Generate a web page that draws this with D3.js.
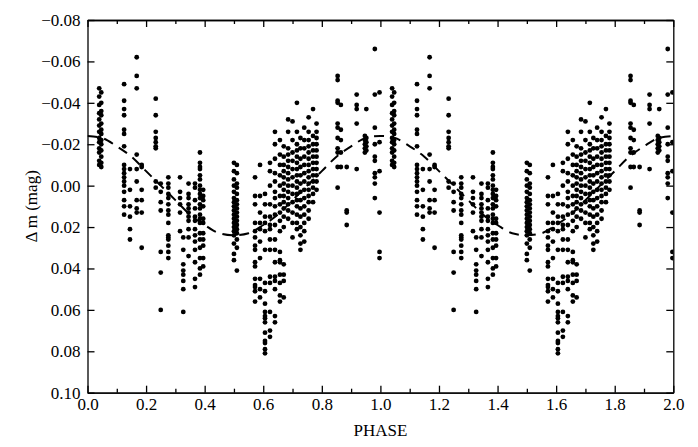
<!DOCTYPE html>
<html>
<head>
<meta charset="utf-8">
<script src="https://cdn.jsdelivr.net/npm/d3@7"></script>
<style>
  body { margin: 0; background: #fff; }
  .axisText { font-family: "Liberation Serif", "Times New Roman", serif; font-size: 17px; fill: #000; }
</style>
</head>
<body>
<div id="chart"></div>
<script>
// phase of each observing column (first cycle, 0..1); redrawn one cycle later
var colPhase = [0.040, 0.047, 0.125, 0.145, 0.168, 0.185, 0.233, 0.250, 0.276, 0.316,
                0.327, 0.345, 0.367, 0.384, 0.395, 0.500, 0.510, 0.572, 0.589, 0.606,
                0.623, 0.640, 0.657, 0.670, 0.685, 0.700, 0.715, 0.727, 0.740, 0.755,
                0.770, 0.782, 0.854, 0.865, 0.885, 0.919, 0.947, 0.952, 0.981, 0.997];

// delta magnitudes in each column
var colMags = [
  [-0.047, -0.043, -0.039, -0.035, -0.032, -0.029, -0.026, -0.023, -0.021, -0.018, -0.016, -0.012, -0.010],
  [-0.045, -0.040, -0.036, -0.034, -0.030, -0.027, -0.025, -0.022, -0.020, -0.017, -0.014, -0.011, -0.009],
  [-0.049, -0.041, -0.037, -0.034, -0.027, -0.025, -0.019, -0.010, -0.008, -0.006, -0.004, -0.002, 0.000, 0.003, 0.007, 0.010, 0.014],
  [-0.008, 0.002, 0.010, 0.015, 0.021, 0.026],
  [-0.062, -0.053, -0.047, -0.015, -0.008, -0.002, 0.007, 0.011, 0.013],
  [-0.010, -0.009, 0.002, 0.007, 0.013, 0.030],
  [-0.042, -0.034, -0.026, -0.023, -0.021, -0.019, -0.018, -0.002, 0.001],
  [-0.001, 0.003, 0.008, 0.012, 0.032, 0.042, 0.060],
  [-0.004, -0.001, 0.001, 0.004, 0.006, 0.009, 0.012, 0.014, 0.018, 0.024, 0.025, 0.026, 0.029, 0.032, 0.035],
  [-0.004, 0.003, 0.006, 0.009, 0.013, 0.022],
  [0.025, 0.031, 0.038, 0.041, 0.043, 0.046, 0.050, 0.061],
  [-0.001, 0.004, 0.006, 0.009, 0.011, 0.013, 0.015, 0.017, 0.021, 0.025, 0.034],
  [-0.001, 0.001, 0.007, 0.011, 0.015, 0.017, 0.021, 0.024, 0.027, 0.031, 0.037, 0.045, 0.049],
  [-0.016, -0.011, -0.009, -0.008, -0.005, -0.003, 0.000, 0.002, 0.004, 0.006, 0.009, 0.011, 0.014, 0.016, 0.018, 0.023, 0.026, 0.030, 0.035, 0.040, 0.043],
  [0.002, 0.005, 0.007, 0.010, 0.016, 0.018, 0.023, 0.026, 0.029, 0.035, 0.039],
  [-0.011, -0.007, -0.003, 0.000, 0.003, 0.006, 0.008, 0.010, 0.012, 0.014, 0.016, 0.018, 0.020, 0.022, 0.024, 0.028, 0.033, 0.036],
  [-0.010, -0.006, -0.001, 0.001, 0.004, 0.007, 0.009, 0.011, 0.013, 0.015, 0.017, 0.019, 0.021, 0.023, 0.026, 0.030, 0.041],
  [-0.004, 0.005, 0.009, 0.018, 0.022, 0.025, 0.029, 0.031, 0.037, 0.039, 0.045, 0.048, 0.049, 0.051, 0.056],
  [-0.010, 0.005, 0.013, 0.018, 0.021, 0.027, 0.035, 0.045, 0.050, 0.054],
  [0.004, 0.009, 0.015, 0.018, 0.022, 0.031, 0.047, 0.051, 0.057, 0.061, 0.063, 0.064, 0.066, 0.071, 0.075, 0.076, 0.079, 0.081],
  [-0.011, -0.007, 0.000, 0.009, 0.015, 0.019, 0.021, 0.026, 0.031, 0.044, 0.047, 0.061, 0.070, 0.073],
  [-0.026, -0.020, -0.013, -0.006, -0.002, 0.003, 0.006, 0.010, 0.014, 0.019, 0.026, 0.031, 0.037, 0.044, 0.046, 0.050, 0.063, 0.066],
  [-0.022, -0.015, -0.010, -0.005, 0.000, 0.005, 0.009, 0.013, 0.017, 0.022, 0.032, 0.036, 0.037, 0.043, 0.047, 0.053, 0.056],
  [-0.019, -0.014, -0.010, -0.007, -0.004, -0.001, 0.002, 0.005, 0.008, 0.011, 0.015, 0.020, 0.038, 0.043, 0.046, 0.054],
  [-0.032, -0.026, -0.018, -0.015, -0.012, -0.009, -0.006, -0.003, 0.000, 0.003, 0.006, 0.009, 0.012, 0.016],
  [-0.031, -0.022, -0.016, -0.012, -0.008, -0.004, 0.000, 0.004, 0.008, 0.013, 0.018, 0.025],
  [-0.040, -0.026, -0.020, -0.017, -0.014, -0.011, -0.008, -0.005, -0.002, 0.001, 0.004, 0.007, 0.010, 0.014, 0.018, 0.021],
  [-0.023, -0.018, -0.013, -0.009, -0.005, -0.001, 0.003, 0.007, 0.011, 0.015, 0.020, 0.024, 0.028, 0.031],
  [-0.028, -0.022, -0.018, -0.014, -0.010, -0.006, -0.002, 0.002, 0.006, 0.010, 0.014, 0.018, 0.022, 0.027],
  [-0.033, -0.026, -0.022, -0.019, -0.016, -0.013, -0.010, -0.007, -0.004, -0.001, 0.002, 0.005, 0.008, 0.012, 0.016],
  [-0.037, -0.024, -0.020, -0.017, -0.014, -0.011, -0.008, -0.005, -0.002, 0.001, 0.004, 0.008],
  [-0.030, -0.026, -0.023, -0.020, -0.017, -0.014, -0.011, -0.008, -0.005, -0.002, 0.002],
  [-0.053, -0.051, -0.041, -0.040, -0.030, -0.028, -0.023, -0.018, -0.016, -0.009, 0.001],
  [-0.039, -0.027, -0.022, -0.016, -0.009],
  [-0.009, 0.012, 0.013, 0.019],
  [-0.044, -0.039, -0.037, -0.030, -0.008],
  [-0.024, -0.022, -0.020, -0.018, -0.016],
  [-0.037, -0.023, -0.021, -0.019, -0.017],
  [-0.066, -0.044, -0.028, -0.020, -0.014, -0.012, -0.006, -0.004, -0.001, 0.006],
  [-0.045, -0.021, -0.007, 0.013, 0.032, 0.035]
];

// dashed light curve, read every 0.05 in phase over one cycle
var curvePhase = [0.00, 0.05, 0.10, 0.15, 0.20, 0.25, 0.30, 0.35, 0.40, 0.45, 0.50,
                  0.55, 0.60, 0.65, 0.70, 0.75, 0.80, 0.85, 0.90, 0.95];
var curveMag = [-0.024, -0.023, -0.019, -0.014, -0.007, 0.000, 0.007, 0.014, 0.019, 0.023, 0.024,
                0.023, 0.019, 0.014, 0.007, 0.000, -0.007, -0.014, -0.019, -0.023];

var xTicks = [0.0, 0.2, 0.4, 0.6, 0.8, 1.0, 1.2, 1.4, 1.6, 1.8, 2.0];
var xMinorTicks = [0.1, 0.3, 0.5, 0.7, 0.9, 1.1, 1.3, 1.5, 1.7, 1.9];
var yTicks = [-0.08, -0.06, -0.04, -0.02, 0.00, 0.02, 0.04, 0.06, 0.08, 0.10];

//svg parameters
var svgWidth = 698;
var svgHeight = 447;
var plot = { left: 87.5, right: 673.3, top: 20, bottom: 392.7 };

var svg = d3.select("#chart")
    .append("svg")
    .attr("width", svgWidth)
    .attr("height", svgHeight);

//scales
var xScale = d3.scaleLinear().domain([0, 2]).range([plot.left, plot.right]);
var yScale = d3.scaleLinear().domain([-0.08, 0.10]).range([plot.top, plot.bottom]);

//flatten columns into points, both cycles
var points = [];
colPhase.forEach(function(p, i) {
    colMags[i].forEach(function(m) {
        points.push({ phase: p, mag: m });
        points.push({ phase: p + 1, mag: m });
    });
});

var curve = [];
[0, 1].forEach(function(cycle) {
    curvePhase.forEach(function(p, i) {
        curve.push({ phase: p + cycle, mag: curveMag[i] });
    });
});
curve.push({ phase: 2, mag: curveMag[0] });

svg.append("clipPath")
    .attr("id", "plotClip")
    .append("rect")
    .attr("x", plot.left)
    .attr("y", plot.top)
    .attr("width", plot.right - plot.left)
    .attr("height", plot.bottom - plot.top);

var plotGroup = svg.append("g").attr("clip-path", "url(#plotClip)");

//dashed curve
var line = d3.line()
    .x(d => xScale(d.phase))
    .y(d => yScale(d.mag))
    .curve(d3.curveMonotoneX);

plotGroup.append("path")
    .datum(curve)
    .attr("d", line)
    .attr("fill", "none")
    .attr("stroke", "#000")
    .attr("stroke-width", 2)
    .attr("stroke-dasharray", "10,7");

//points
plotGroup.selectAll("circle")
    .data(points)
    .enter()
    .append("circle")
    .attr("cx", d => xScale(d.phase))
    .attr("cy", d => yScale(d.mag))
    .attr("r", 2.4)
    .attr("fill", "#000");

//axes, ticks pointing inward on all four sides
function styleAxis(g) {
    g.select(".domain").attr("stroke", "#000").attr("stroke-width", 1.3);
    g.selectAll(".tick line").attr("stroke", "#000").attr("stroke-width", 1.3);
    g.selectAll(".tick text")
        .attr("class", "axisText")
        .attr("font-family", null)
        .attr("font-size", null);
}

svg.append("g")
    .attr("transform", `translate(0, ${plot.bottom})`)
    .call(d3.axisBottom(xScale).tickValues(xMinorTicks).tickSize(-4).tickSizeOuter(0).tickFormat(""))
    .call(styleAxis);

svg.append("g")
    .attr("transform", `translate(0, ${plot.bottom})`)
    .call(d3.axisBottom(xScale).tickValues(xTicks).tickSize(-7).tickSizeOuter(0).tickPadding(5).tickFormat(d3.format(".1f")))
    .call(styleAxis);

svg.append("g")
    .attr("transform", `translate(0, ${plot.top})`)
    .call(d3.axisTop(xScale).tickValues(xMinorTicks).tickSize(-4).tickSizeOuter(0).tickFormat(""))
    .call(styleAxis);

svg.append("g")
    .attr("transform", `translate(0, ${plot.top})`)
    .call(d3.axisTop(xScale).tickValues(xTicks).tickSize(-7).tickSizeOuter(0).tickFormat(""))
    .call(styleAxis);

svg.append("g")
    .attr("transform", `translate(${plot.left}, 0)`)
    .call(d3.axisLeft(yScale).tickValues(yTicks).tickSize(-7).tickSizeOuter(0).tickPadding(7).tickFormat(d3.format(".2f")))
    .call(styleAxis);

svg.append("g")
    .attr("transform", `translate(${plot.right}, 0)`)
    .call(d3.axisRight(yScale).tickValues(yTicks).tickSize(-7).tickSizeOuter(0).tickFormat(""))
    .call(styleAxis);

//axis labels
svg.append("text")
    .attr("class", "axisText")
    .attr("x", (plot.left + plot.right) / 2)
    .attr("y", 436)
    .attr("text-anchor", "middle")
    .text("PHASE");

svg.append("text")
    .attr("class", "axisText")
    .attr("transform", `translate(37, ${(plot.top + plot.bottom) / 2}) rotate(-90)`)
    .attr("text-anchor", "middle")
    .text("Δ m (mag)");
</script>
</body>
</html>
